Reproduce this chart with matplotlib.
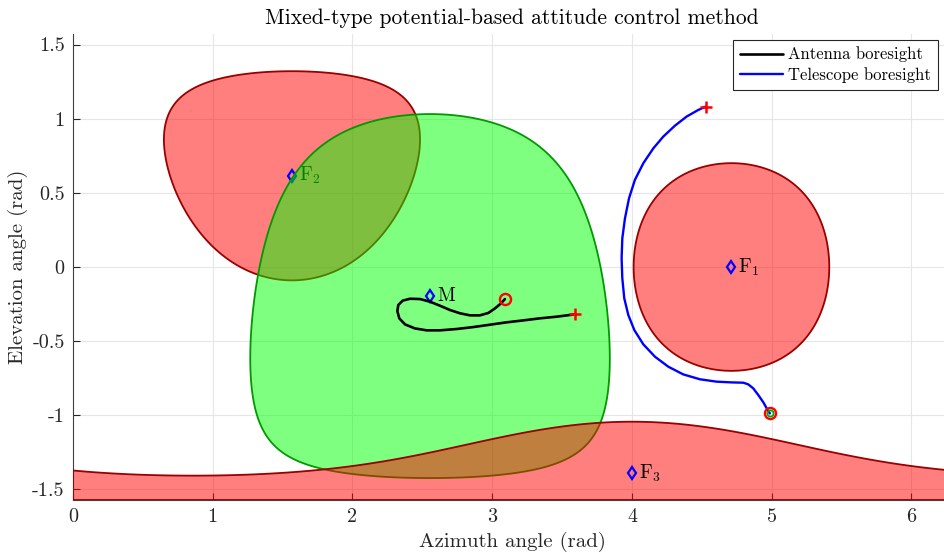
import numpy as np
import matplotlib
matplotlib.use("Agg")
import matplotlib.pyplot as plt
from matplotlib.patches import Polygon

plt.rcParams.update({
    "font.family": "serif",
    "font.serif": ["cmr10", "DejaVu Serif"],
    "mathtext.fontset": "cm",
    "axes.unicode_minus": False,
    "axes.formatter.use_mathtext": True,
})

# keep-out / keep-in cones: (azimuth centre, elevation centre, half angle) in rad
forbid_names = ["F$_1$", "F$_2$", "F$_3$"]
forbid_az = [4.712, 1.567, 4.00]
forbid_el = [0.000, 0.615, -1.389]
forbid_half = [0.700, 0.705, 0.346]

mand_name = "M"
mand_az, mand_el, mand_half = 2.555, -0.196, 1.227

# antenna boresight trajectory (start at "+", end at "o")
ant_az = [3.592, 3.461, 3.342, 3.222, 3.103, 2.984, 2.864, 2.746, 2.626, 2.531,
          2.447, 2.376, 2.335, 2.321, 2.328, 2.359, 2.411, 2.483, 2.555, 2.626,
          2.698, 2.769, 2.841, 2.912, 2.972, 3.020, 3.063, 3.091]
ant_el = [-0.319, -0.335, -0.346, -0.360, -0.373, -0.389, -0.405, -0.418, -0.427, -0.427,
          -0.414, -0.387, -0.346, -0.297, -0.256, -0.227, -0.214, -0.216, -0.234, -0.261,
          -0.290, -0.312, -0.326, -0.326, -0.310, -0.279, -0.245, -0.216]

# telescope boresight trajectory
tel_az = [4.527, 4.475, 4.391, 4.308, 4.224, 4.153, 4.081, 4.021, 3.979, 3.950,
          3.931, 3.926, 3.931, 3.945, 3.974, 4.017, 4.081, 4.165, 4.260, 4.367,
          4.487, 4.606, 4.713, 4.797, 4.832, 4.868, 4.904, 4.940, 4.971, 4.987]
tel_el = [1.081, 1.059, 1.014, 0.953, 0.879, 0.800, 0.699, 0.587, 0.463, 0.328,
          0.193, 0.059, -0.076, -0.211, -0.324, -0.425, -0.521, -0.605, -0.672, -0.724,
          -0.757, -0.773, -0.778, -0.780, -0.791, -0.818, -0.863, -0.912, -0.964, -0.987]

xticks = [0, 1, 2, 3, 4, 5, 6]
yticks = [-1.5, -1, -0.5, 0, 0.5, 1, 1.5]


def cone_outline(az0, el0, half, n=721):
    """boundary of a cone on the unit sphere -> (az, el)"""
    c = np.array([np.cos(el0) * np.cos(az0), np.cos(el0) * np.sin(az0), np.sin(el0)])
    u = np.cross(c, [0, 0, 1.0]); u /= np.linalg.norm(u)
    v = np.cross(c, u)
    t = np.linspace(0, 2 * np.pi, n)
    p = np.cos(half) * c[:, None] + np.sin(half) * (np.outer(u, np.cos(t)) + np.outer(v, np.sin(t)))
    az = np.mod(np.arctan2(p[1], p[0]), 2 * np.pi)
    el = np.arcsin(np.clip(p[2], -1, 1))
    return az, el


RED_FC, RED_EC = (1, 0, 0, 0.5), "#990000"
GRN_FC, GRN_EC = (0, 1, 0, 0.5), "#009900"
LBL = 14

fig = plt.figure(figsize=(9.44, 5.55), dpi=100)
ax = fig.add_axes([73 / 944, 1 - 500 / 555, 878 / 944, 466 / 555])
ax.set_xlim(0, 2 * np.pi); ax.set_ylim(-np.pi / 2, np.pi / 2)

# F1, F2 cones (below the keep-in zone)
for k in (0, 1):
    a, e = cone_outline(forbid_az[k], forbid_el[k], forbid_half[k])
    ax.add_patch(Polygon(np.c_[a, e], closed=True, fc=RED_FC, ec=RED_EC, lw=1.3, zorder=2))
ax.plot(forbid_az[1], forbid_el[1], "d", mfc="none", mec="blue", ms=6.5, mew=1.6, zorder=3)
ax.text(forbid_az[1] + 0.05, forbid_el[1], forbid_names[1], fontsize=LBL, va="center", zorder=3)

# keep-in cone M
a, e = cone_outline(mand_az, mand_el, mand_half)
ax.add_patch(Polygon(np.c_[a, e], closed=True, fc=GRN_FC, ec=GRN_EC, lw=1.3, zorder=4))

# F3 cone contains the south pole -> band along the bottom
a, e = cone_outline(forbid_az[2], forbid_el[2], forbid_half[2])
o = np.argsort(a); a, e = a[o], e[o]
band = np.r_[[[0, e[0]]], np.c_[a, e], [[2 * np.pi, e[-1]], [2 * np.pi, -np.pi / 2], [0, -np.pi / 2]]]
ax.add_patch(Polygon(band, closed=True, fc=RED_FC, ec=RED_EC, lw=1.3, zorder=5))

for k in (0, 2):
    ax.plot(forbid_az[k], forbid_el[k], "d", mfc="none", mec="blue", ms=6.5, mew=1.6, zorder=6)
    ax.text(forbid_az[k] + 0.05, forbid_el[k], forbid_names[k], fontsize=LBL, va="center", zorder=6)
ax.plot(mand_az, mand_el, "d", mfc="none", mec="blue", ms=6.5, mew=1.6, zorder=6)
ax.text(mand_az + 0.05, mand_el, mand_name, fontsize=LBL, va="center", zorder=6)

ax.plot(ant_az, ant_el, color="black", lw=1.9, label="Antenna boresight", zorder=7,
        solid_joinstyle="round", solid_capstyle="round")
ax.plot(tel_az, tel_el, color="blue", lw=1.7, label="Telescope boresight", zorder=7,
        solid_joinstyle="round", solid_capstyle="round")
for az_, el_ in ((ant_az, ant_el), (tel_az, tel_el)):
    ax.plot(az_[0], el_[0], "+", color="red", ms=8, mew=1.8, zorder=8)
    ax.plot(az_[-1], el_[-1], "o", mfc="none", mec="red", ms=8, mew=1.7, zorder=8)
ax.plot(tel_az[-1], tel_el[-1], "o", mfc="none", mec="#00aa00", ms=4.5, mew=1.3, zorder=9)

ax.set_xticks(xticks); ax.set_yticks(yticks)
ax.set_xticklabels([f"{t:g}" for t in xticks]); ax.set_yticklabels([f"{t:g}" for t in yticks])
ax.tick_params(direction="in", labelsize=14.5, color="#262626", labelcolor="#262626", length=5, pad=6)
ax.grid(True, color="#e6e6e6", lw=0.8, zorder=0); ax.set_axisbelow(True)
for s in ("top", "right"): ax.spines[s].set_visible(False)
for s in ("left", "bottom"): ax.spines[s].set_color("#404040"); ax.spines[s].set_linewidth(0.8)

ax.set_xlabel("Azimuth angle (rad)", fontsize=15, labelpad=4, color="#262626")
ax.set_ylabel("Elevation angle (rad)", fontsize=15, labelpad=3, color="#262626")
ax.set_title("Mixed-type potential-based attitude control method", fontsize=15.5, pad=7)

leg = ax.legend(loc="upper right", bbox_to_anchor=(938 / 944, 1 - 40 / 555), bbox_transform=fig.transFigure,
                borderaxespad=0, fontsize=12, fancybox=False, edgecolor="#262626", framealpha=1,
                handlelength=2.6, handletextpad=0.3, borderpad=0.4, labelspacing=0.3)
leg.get_frame().set_linewidth(0.8)

fig.savefig("out.png", dpi=100)
